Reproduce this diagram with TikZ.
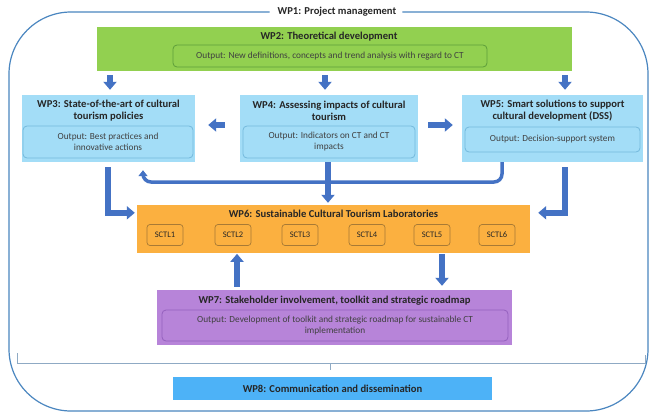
\documentclass[tikz,border=0pt]{standalone}
\usepackage{fontspec}
\setmainfont{Carlito}
\usetikzlibrary{arrows.meta}
\definecolor{framec}{HTML}{4A86C0}
\definecolor{bracketc}{HTML}{8FAAC4}
\definecolor{wpgreen}{HTML}{92D050}
\definecolor{wpgreenb}{HTML}{5E9E3A}
\definecolor{wplblue}{HTML}{A3DDF7}
\definecolor{wplblueb}{HTML}{74B9DC}
\definecolor{wporange}{HTML}{FBB040}
\definecolor{wporangeb}{HTML}{A87A35}
\definecolor{wppurple}{HTML}{B784D9}
\definecolor{wppurpleb}{HTML}{9460BE}
\definecolor{wpblue}{HTML}{4DB2F7}
\definecolor{arrowblue}{HTML}{4472C4}
\definecolor{txt}{HTML}{262626}
\definecolor{outtxt}{HTML}{404040}
\begin{document}
\begin{tikzpicture}[x=1pt,y=-1pt,
  wpbox/.style={rectangle, inner sep=0pt, draw=none},
  wptitle/.style={font=\bfseries\fontsize{10.6}{12}\selectfont, align=center, text=txt, inner sep=0pt},
  outbox/.style={rectangle, rounded corners=4pt, line width=0.8pt, inner sep=0pt, align=center, font=\fontsize{9.3}{11}\selectfont, text=outtxt},
  sctl/.style={rectangle, rounded corners=3pt, draw=wporangeb, line width=0.7pt, fill=wporange, minimum width=36pt, minimum height=21pt, inner sep=0pt, font=\fontsize{8.5}{9}\selectfont, text=txt},
  barrow/.style={draw=arrowblue, line width=5.5pt, -{Triangle[width=13pt,length=8pt]}},
  carrow/.style={draw=arrowblue, line width=3.5pt, rounded corners=8pt, -{Triangle[width=9pt,length=6pt]}}
]
\useasboundingbox (0,0) rectangle (652,415);
\fill[white] (0,0) rectangle (652,415);

% WP1 frame
\node[font=\bfseries\fontsize{10.6}{12}\selectfont, text=txt, inner sep=0pt] (wp1) at (337,12) {WP1: Project management};
\draw[framec, line width=1.2pt, rounded corners=62pt] ([xshift=-8pt]wp1.west |- 0,12) -- (9,12) -- (9,411) -- (648,411) -- (648,12) -- ([xshift=6pt]wp1.east |- 0,12);

% bracket
\coordinate (bl) at (17,353);
\coordinate (br) at (645,355);
\coordinate (bm) at (330,363);
\draw[bracketc, line width=0.8pt] (bl) -- (17,363) -- (645,363) -- (br);
\draw[bracketc, line width=0.8pt] (bm) -- (330,370);

% WP2
\node[wpbox, fill=wpgreen, minimum width=475pt, minimum height=44pt] (wp2) at (334.5,49) {};
\node[wptitle] (wp2t) at (329,37) {WP2: Theoretical development};
\node[outbox, draw=wpgreenb, fill=wpgreen, minimum width=314pt, minimum height=22pt] (wp2o) at (330,56) {Output: New definitions, concepts and trend analysis with regard to CT};

% WP3
\node[wpbox, fill=wplblue, minimum width=173pt, minimum height=67pt] (wp3) at (108.5,128.5) {};
\node[wptitle] (wp3t) at (108.5,110.5) {WP3: State-of-the-art of cultural\\tourism policies};
\node[outbox, draw=wplblueb, fill=wplblue, minimum width=170pt, minimum height=32pt] (wp3o) at (108,142) {Output: Best practices and\\innovative actions};

% WP4
\node[wpbox, fill=wplblue, minimum width=178pt, minimum height=67pt] (wp4) at (329,128.5) {};
\node[wptitle] (wp4t) at (329,110.5) {WP4: Assessing impacts of cultural\\tourism};
\node[outbox, draw=wplblueb, fill=wplblue, minimum width=172pt, minimum height=32pt] (wp4o) at (329,142) {Output: Indicators on CT and CT\\impacts};

% WP5
\node[wpbox, fill=wplblue, minimum width=181pt, minimum height=67pt] (wp5) at (552.5,128.5) {};
\node[wptitle] (wp5t) at (552.5,110.5) {WP5: Smart solutions to support\\cultural development (DSS)};
\node[outbox, draw=wplblueb, fill=wplblue, minimum width=175pt, minimum height=25pt] (wp5o) at (552.5,139.5) {Output: Decision-support system};

% WP6
\node[wpbox, fill=wporange, minimum width=393pt, minimum height=48pt] (wp6) at (333.5,229) {};
\node[wptitle] (wp6t) at (333.5,214) {WP6: Sustainable Cultural Tourism Laboratories};
\node[sctl] (s1) at (165,235) {SCTL1};
\node[sctl] (s2) at (233,235) {SCTL2};
\node[sctl] (s3) at (300,235) {SCTL3};
\node[sctl] (s4) at (367,235) {SCTL4};
\node[sctl] (s5) at (432,235) {SCTL5};
\node[sctl] (s6) at (497,235) {SCTL6};

% WP7
\node[wpbox, fill=wppurple, minimum width=355pt, minimum height=55pt] (wp7) at (334.5,317.5) {};
\node[wptitle] (wp7t) at (334.5,301) {WP7: Stakeholder involvement, toolkit and strategic roadmap};
\node[outbox, draw=wppurpleb, fill=wppurple, minimum width=346pt, minimum height=31pt] (wp7o) at (335,325.5) {Output: Development of toolkit and strategic roadmap for sustainable CT\\implementation};

% WP8
\node[wpbox, fill=wpblue, minimum width=319pt, minimum height=23pt, font=\bfseries\fontsize{10.6}{12}\selectfont, text=txt] (wp8) at (332.5,388.5) {WP8: Communication and dissemination};

% arrows WP2 -> WP3/4/5
\draw[barrow] (wp2.south -| 110,0) ++(0,-4pt) -- ([yshift=5pt]wp3.north -| 110,0);
\draw[barrow] (wp2.south -| 325,0) ++(0,-4pt) -- ([yshift=5pt]wp4.north -| 325,0);
\draw[barrow] (wp2.south -| 565,0) ++(0,-4pt) -- ([yshift=5pt]wp5.north -| 565,0);

% WP4 -> WP3, WP4 -> WP5
\draw[barrow] ([xshift=-15pt]wp4.west |- 0,125) -- ([xshift=13pt]wp3.east |- 0,125);
\draw[barrow] ([xshift=10pt]wp4.east |- 0,125) -- ([xshift=-9pt]wp5.west |- 0,125);

% WP3 -> WP6, WP5 -> WP6, WP4 -> WP6
\draw[barrow] ([yshift=-5pt]wp3.south -| 108,0) |- ([xshift=-2pt,yshift=-8pt]wp6.north west);
\draw[barrow] ([yshift=-5pt]wp5.south -| 565,0) |- ([xshift=8pt,yshift=-8pt]wp6.north east);
\draw[barrow] (wp4.south -| 328,0) -- ([yshift=2pt]wp6.north -| 328,0);

% WP5 -> WP3 feedback
\draw[carrow] (wp5.south -| 502,0) -- (502,182) -- (143,182) -- ([yshift=-8pt]wp3.south -| 143,0);

% WP6 <-> WP7
\draw[barrow] ([yshift=3pt]wp7.north -| 237,0) -- ([yshift=-8pt]s2.south -| 237,0);
\draw[barrow] ([yshift=-8pt]s5.south -| 442,0) -- ([yshift=4pt]wp7.north -| 442,0);
\end{tikzpicture}
\end{document}
